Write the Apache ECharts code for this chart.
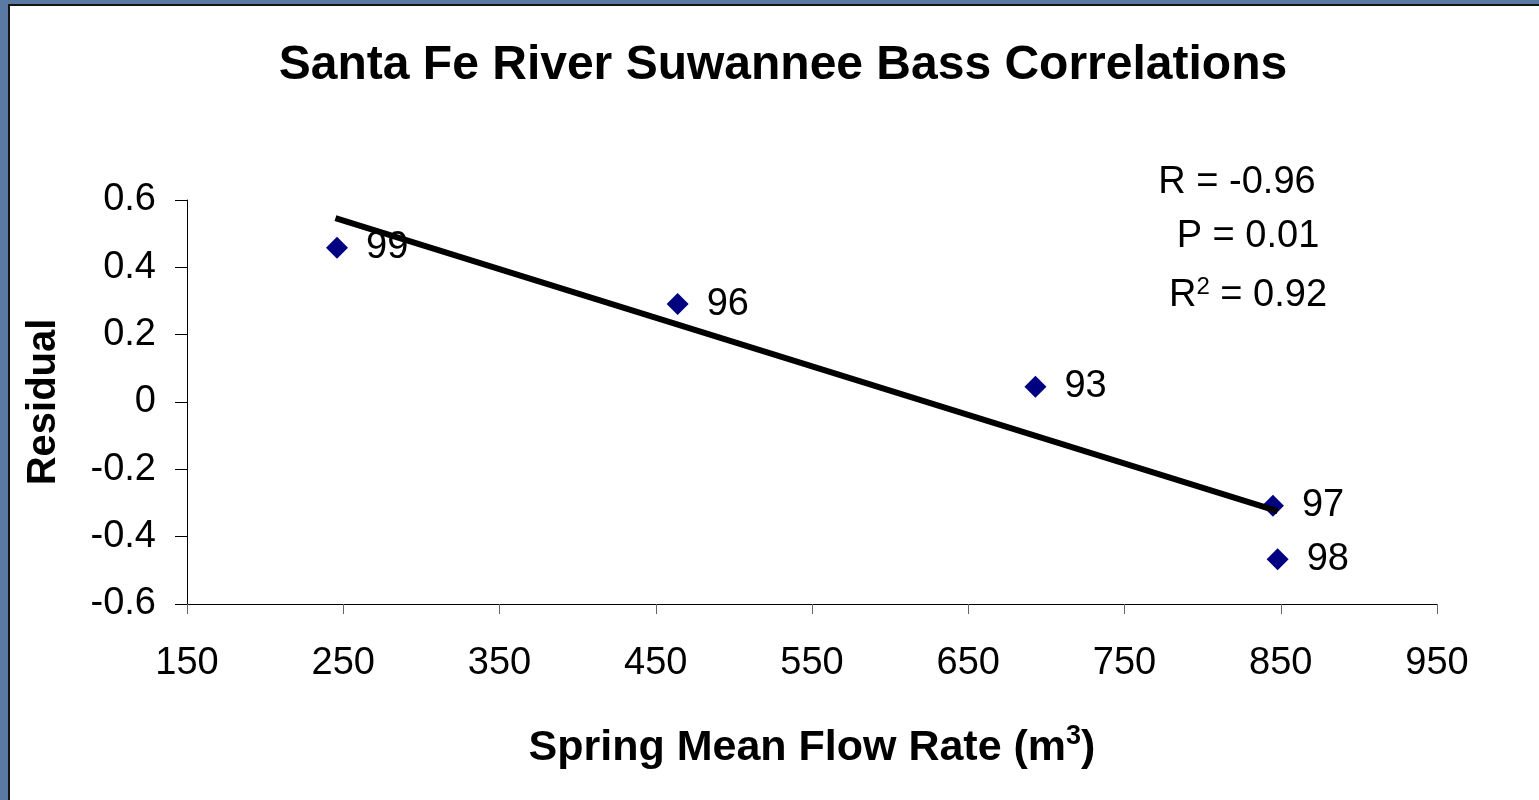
<!DOCTYPE html>
<html>
<head>
<meta charset="utf-8">
<script src="https://cdn.jsdelivr.net/npm/echarts@6/dist/echarts.min.js"></script>
<style>
  html, body { margin: 0; padding: 0; width: 1539px; height: 800px; overflow: hidden; background: #5a7aa3; }
  #paper { position: absolute; left: 8px; top: 4px; right: 0; bottom: 0; background: #fff; border-left: 2px solid #151515; border-top: 2px solid #151515; }
  #chart { position: absolute; left: 0; top: 0; width: 1539px; height: 800px; }
</style>
</head>
<body>
<div id="paper"></div>
<div id="chart"></div>
<script>
// Data
const pointYears = ['99', '96', '93', '97', '98'];
const flowRate = [246, 464, 693, 845, 848];
const residual = [0.458, 0.291, 0.045, -0.308, -0.467];
const trendX = [245, 848];
const trendY = [0.546, -0.324];
const xTicks = [150, 950, 100];   // min, max, interval
const yTicks = [-0.6, 0.6, 0.2];  // min, max, interval
const statLines = ['R = -0.96', 'P = 0.01', 'R{sup|2} = 0.92'];
const titleText = 'Santa Fe River Suwannee Bass Correlations';
const xName = 'Spring Mean Flow Rate (m{sup|3})';
const yName = 'Residual';

const FONT = '"Liberation Sans", Arial, sans-serif';
const chart = echarts.init(document.getElementById('chart'), null, { renderer: 'canvas' });

const scatterData = flowRate.map((x, i) => ({ value: [x, residual[i]], name: pointYears[i] }));
const trendData = trendX.map((x, i) => [x, trendY[i]]);

const statX = [1237, 1248, 1248];
const statY = [183, 237, 296];

chart.setOption({
  backgroundColor: 'transparent',
  animation: false,
  title: {
    text: titleText,
    left: 778,
    top: 37,
    textAlign: 'center',
    textStyle: { fontFamily: FONT, fontWeight: 'bold', fontSize: 48, color: '#000' }
  },
  grid: { left: 187, top: 200, right: 102, bottom: 196, containLabel: false },
  xAxis: {
    type: 'value',
    min: xTicks[0], max: xTicks[1], interval: xTicks[2],
    name: xName,
    nameLocation: 'middle',
    nameGap: 119,
    nameTextStyle: {
      fontFamily: FONT, fontWeight: 'bold', fontSize: 43, color: '#000',
      rich: { sup: { fontFamily: FONT, fontWeight: 'bold', fontSize: 27, verticalAlign: 'top', padding: [0, 0, 24, 0], color: '#000' } }
    },
    axisLine: { onZero: false, lineStyle: { color: '#000', width: 1 } },
    axisTick: { show: true, inside: false, length: 10, lineStyle: { color: '#666' } },
    splitLine: { show: false },
    axisLabel: { fontFamily: FONT, fontSize: 38, color: '#000', margin: 41 }
  },
  yAxis: {
    type: 'value',
    min: yTicks[0], max: yTicks[1], interval: yTicks[2],
    name: yName,
    nameLocation: 'middle',
    nameRotate: 90,
    nameGap: 123,
    nameTextStyle: { fontFamily: FONT, fontWeight: 'bold', fontSize: 40, color: '#000' },
    axisLine: { show: true, onZero: false, lineStyle: { color: '#000', width: 1 } },
    axisTick: { show: true, inside: false, length: 12, lineStyle: { color: '#000' } },
    splitLine: { show: false },
    axisLabel: { fontFamily: FONT, fontSize: 38, color: '#000', margin: 31,
      formatter: v => (Math.abs(v) < 1e-9 ? '0' : String(Math.round(v * 10) / 10)) }
  },
  series: [
    {
      type: 'line',
      data: trendData,
      showSymbol: false,
      symbol: 'none',
      lineStyle: { color: '#000', width: 6 },
      z: 3
    },
    {
      type: 'scatter',
      data: scatterData,
      symbol: 'diamond',
      symbolSize: 22,
      itemStyle: { color: '#000080', opacity: 1 },
      label: {
        show: true, position: 'right', distance: 18,
        formatter: p => p.name,
        fontFamily: FONT, fontSize: 38, color: '#000'
      },
      z: 2
    }
  ],
  graphic: statLines.map((t, i) => ({
    type: 'text',
    x: statX[i],
    y: statY[i],
    style: {
      text: t,
      textAlign: 'center',
      textVerticalAlign: 'middle',
      fontFamily: FONT,
      fontSize: 38,
      fill: '#000',
      rich: { sup: { fontFamily: FONT, fontSize: 24, verticalAlign: 'top', padding: [0, 0, 18, 0], fill: '#000' } }
    }
  }))
});
</script>
</body>
</html>
